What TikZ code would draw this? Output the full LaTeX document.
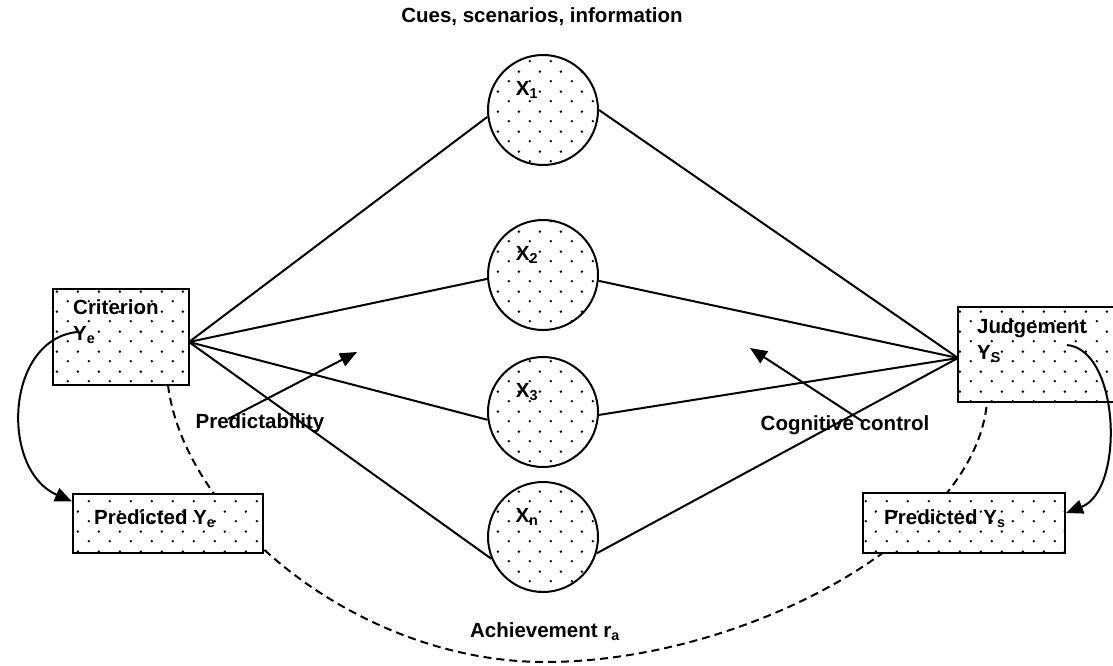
\documentclass[tikz,border=0pt]{standalone}
\usepackage{fontspec}
\setmainfont{Liberation Sans}
\usetikzlibrary{arrows.meta,patterns}
\pgfdeclarepatternformonly{stipple}{\pgfpointorigin}{\pgfqpoint{21pt}{20pt}}{\pgfqpoint{21pt}{20pt}}{%
  \pgfpathcircle{\pgfqpoint{5pt}{5pt}}{1.4pt}%
  \pgfpathcircle{\pgfqpoint{15.5pt}{15pt}}{1.4pt}%
  \pgfusepath{fill}%
}
\tikzset{
  txt/.style={inner sep=0pt, font=\fontsize{20.5}{26}\selectfont\bfseries, text=black},
  dotted fill/.style={preaction={fill=white}, pattern=stipple, pattern color=black},
  cue/.style={circle, draw=black, line width=2pt, minimum size=110pt, inner sep=0pt, dotted fill},
  box/.style={rectangle, draw=black, line width=2pt, inner sep=0pt, dotted fill},
  link/.style={line width=2pt, black},
  arr/.style={line width=2pt, black, -{Triangle[length=17pt,width=14pt]}},
  achdash/.style={line width=2pt, black, dash pattern=on 8pt off 5pt},
}
\begin{document}
\begin{tikzpicture}[x=1pt,y=-1pt]
\useasboundingbox (0,0) rectangle (1113,666);
\fill[white] (0,0) rectangle (1113,666);
\clip (0,0) rectangle (1113,666);

% title
\node[txt] (title) at (542,17) {Cues, scenarios, information};

% dashed achievement curve (behind boxes)
\coordinate (cb) at (168,385);
\coordinate (low) at (545,662);
\coordinate (jb) at (987,402);
\draw[achdash] (cb) .. controls (185,520) and (360,662) .. (low)
  .. controls (740,662) and (975,540) .. (jb);

% boxes
\node[box, minimum width=136pt, minimum height=96pt] (crit) at (121,337) {};
\node[box, minimum width=167pt, minimum height=95pt] (judg) at (1041.5,354.5) {};
\node[box, minimum width=190pt, minimum height=59pt] (pe) at (168,523.5) {};
\node[box, minimum width=202pt, minimum height=60pt] (ps) at (964,523) {};

\node[txt, anchor=west, align=left] (critt) at (73,322) {Criterion\\Y\textsubscript{e}};
\node[txt, anchor=west, align=left] (judgt) at (977,341) {Judgement\\Y\textsubscript{S}};
\node[txt, anchor=west] (pet) at (94,519) {Predicted Y\textsubscript{e}};
\node[txt, anchor=west] (pst) at (884,519) {Predicted Y\textsubscript{s}};

% cue circles
\node[cue] (x1) at (543,110) {};
\node[cue] (x2) at (543,275) {};
\node[cue] (x3) at (543,412) {};
\node[cue] (xn) at (543,537) {};
\node[txt] (x1t) at (527,90) {X\textsubscript{1}};
\node[txt] (x2t) at (527,255) {X\textsubscript{2}};
\node[txt] (x3t) at (527,392) {X\textsubscript{3}};
\node[txt] (xnt) at (527,517) {X\textsubscript{n}};

% lens lines
\coordinate (cp) at (189,342);
\coordinate (jp) at (958,358);
\draw[link] (cp) -- (x1.187);
\draw[link] (cp) -- (x2.184);
\draw[link] (cp) -- (x3.188);
\draw[link] (cp) -- (xn.203);
\draw[link] (jp) -- (x1.0);
\draw[link] (jp) -- (x2.354);
\draw[link] (jp) -- (x3.357);
\draw[link] (jp) -- (xn.343);

% labels and arrows
\node[txt] (pred) at (260,423) {Predictability};
\node[txt] (cog) at (845,425) {Cognitive control};
\node[txt] (ach) at (545,632) {Achievement r\textsubscript{a}};
\coordinate (pa) at (228,419);
\coordinate (pb) at (357,352);
\draw[arr] (pa) -- (pb);
\coordinate (ca) at (862,421);
\coordinate (cbh) at (750,348);
\draw[arr] (ca) -- (cbh);

% curved arrows
\coordinate (ye) at (77,332);
\draw[arr] (ye) .. controls (5,340) and (0,470) .. ([yshift=22pt]pe.west);
\coordinate (ysv) at (1067,345);
\draw[arr] (ysv) .. controls (1120,350) and (1125,490) .. ([yshift=10pt]ps.east);
\end{tikzpicture}
\end{document}
